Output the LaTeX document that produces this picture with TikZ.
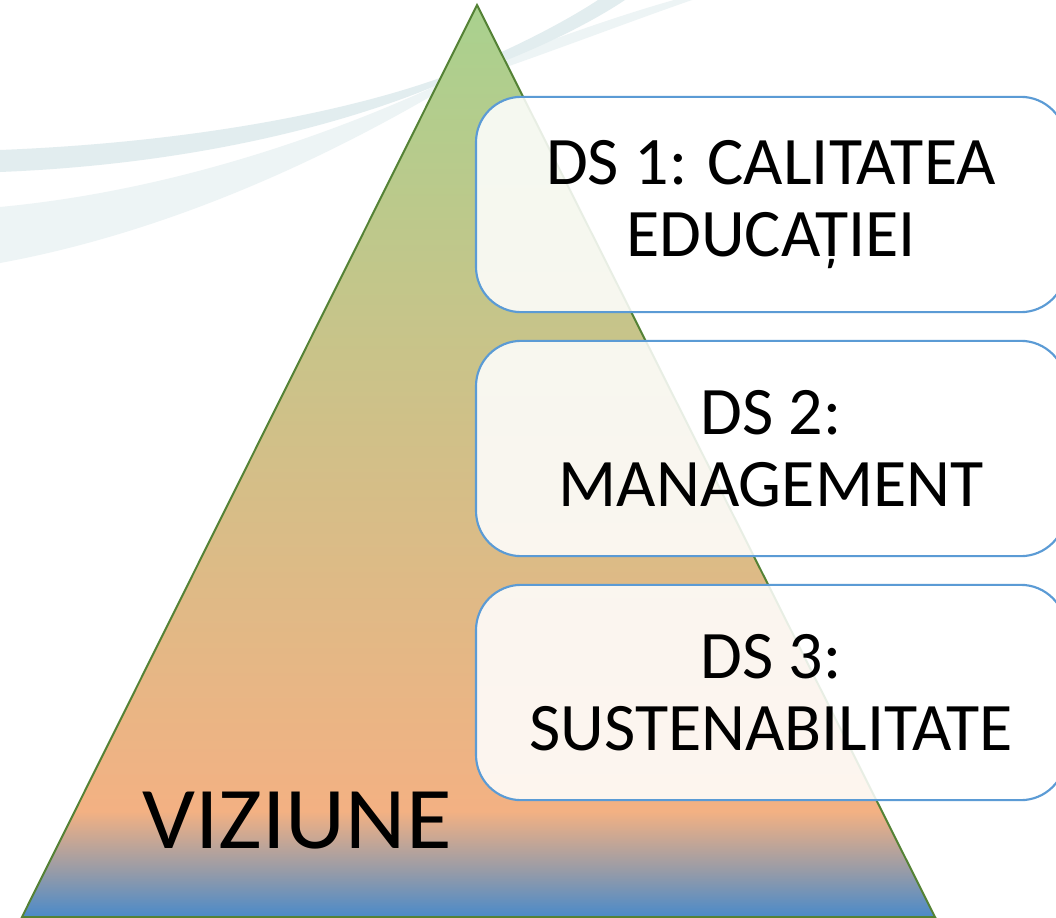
\documentclass[tikz,border=0pt]{standalone}
\usepackage{fontspec}
\setmainfont{Carlito}
\definecolor{swA}{RGB}{226,237,239}
\definecolor{swB}{RGB}{237,244,245}
\definecolor{trib}{RGB}{74,138,201}
\definecolor{trig}{RGB}{150,155,168}
\definecolor{trio}{RGB}{243,177,131}
\definecolor{trigr}{RGB}{169,209,142}
\definecolor{triline}{RGB}{84,130,53}
\definecolor{boxline}{RGB}{91,155,213}
\pgfdeclareverticalshading{pyr}{100bp}{color(0bp)=(trib); color(25bp)=(trib); color(27.5bp)=(trig); color(30.8bp)=(trio); color(75bp)=(trigr); color(100bp)=(trigr)}
\tikzset{
  dsbox/.style={draw=boxline, line width=1.6pt, rounded corners=34pt, fill=white, fill opacity=0.87, text opacity=1,
    minimum width=442.5pt, minimum height=161.5pt, align=center, inner sep=0pt,
    font=\fontsize{51}{54}\selectfont},
  pyrstyle/.style={draw=triline, line width=1.5pt, shading=pyr},
}
\begin{document}
\begin{tikzpicture}[x=0.75pt,y=-0.75pt]
\useasboundingbox (0,0) rectangle (1056,917);
\clip (0,0) rectangle (1056,917);
\fill[white] (0,0) rectangle (1056,917);
% background swooshes
\fill[swB] (0,207) .. controls (180,190) and (340,130) .. (440,84)
  .. controls (520,50) and (610,18) .. (674,0) -- (692,0)
  .. controls (620,25) and (530,60) .. (445,88)
  .. controls (340,150) and (180,230) .. (0,263) -- cycle;
\fill[swA] (0,150) .. controls (200,142) and (350,110) .. (440,78)
  .. controls (500,55) and (560,25) .. (598,0) -- (625,0)
  .. controls (580,30) and (510,62) .. (440,84)
  .. controls (350,122) and (200,164) .. (0,172) -- cycle;
% pyramid
\path[pyrstyle] (477,5) coordinate (apex) -- (935,917) coordinate (br) -- (22,917) coordinate (bl) -- cycle;
\node (viz) [anchor=base, font=\fontsize{66}{70}\selectfont, xscale=1.06] at (297,848) {VIZIUNE};
% boxes
\node (ds1) [dsbox] at (771,204.5) {DS 1: CALITATEA\\EDUCAȚIEI};
\node (ds2) [dsbox] at (771,448.5) {DS 2:\\MANAGEMENT};
\node (ds3) [dsbox] at (771,692.5) {DS 3:\\SUSTENABILITATE};
\end{tikzpicture}
\end{document}
